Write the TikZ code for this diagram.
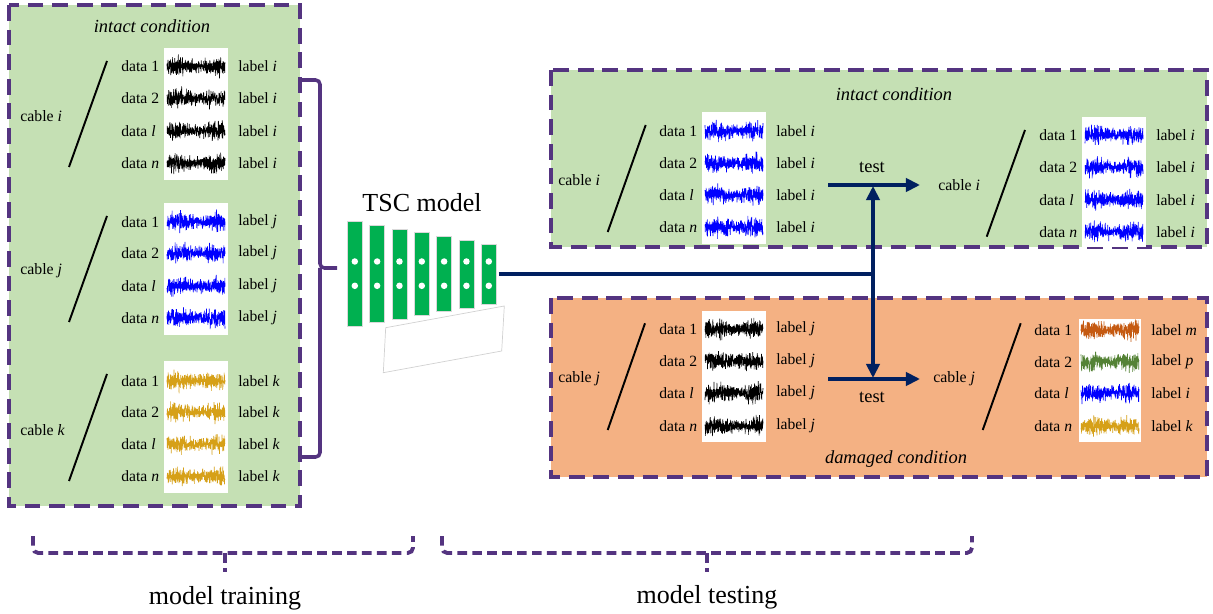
\documentclass[tikz,border=0pt]{standalone}
\usepackage{fontspec}
\setmainfont{Liberation Serif}
\usetikzlibrary{arrows.meta}
\definecolor{purp}{RGB}{84,52,128}
\definecolor{lgreen}{RGB}{197,224,180}
\definecolor{lorange}{RGB}{244,177,131}
\definecolor{navy}{RGB}{0,32,96}
\definecolor{tscg}{RGB}{0,176,80}
\definecolor{gold}{RGB}{214,160,24}
\definecolor{rust}{RGB}{197,90,17}
\definecolor{wgreen}{RGB}{84,130,53}
\newcommand\wv[3]{\draw[#3, line width=0.35pt, line join=bevel] plot[samples=400, domain=0:58, variable=\t] ({#1+\t},{#2+(3.8+0.8*sin(\t*9))*(rand+rand+rand)});}
\newcommand\grp[5]{\foreach \y/\d/\c/\l [count=\k] in {#5} {\node[dt] (#1d\k) at (#2,\y) {data \d}; \wv{#3}{\y}{\c} \node[dt] (#1l\k) at (#4,\y) {label \textit{\l}};}}
\tikzset{
  dt/.style={font=\fontsize{8.9}{10}\selectfont, inner sep=0pt, anchor=west},
  cab/.style={font=\fontsize{9}{10}\selectfont, inner sep=0pt, anchor=west},
  ttl/.style={font=\fontsize{10.5}{12}\selectfont\itshape, inner sep=0pt},
  big/.style={font=\fontsize{14.8}{17}\selectfont, inner sep=0pt},
  dbox/.style={draw=purp, line width=2.2pt, dash pattern=on 9pt off 5pt},
  slash/.style={line width=1.1pt, black},
  wbg/.style={fill=white},
  brace/.style={draw=purp, line width=2pt, rounded corners=2.5pt},
  bdash/.style={draw=purp, line width=2.2pt, dash pattern=on 5.5pt off 3pt},
  nav/.style={draw=navy, line width=2.2pt},
  arr/.style={nav, -{Triangle[length=8pt,width=7.5pt]}},
  barn/.style={fill=tscg, draw=black!15, line width=0.3pt, minimum width=8.5pt, inner sep=0pt},
}
\begin{document}
\begin{tikzpicture}[x=0.02cm, y=-0.02cm]
\pgfmathsetseed{4242}
\useasboundingbox (0,0) rectangle (1213,614);
% ---------------- left training box
\fill[lgreen] (9,5) rectangle (300,506);
\draw[dbox] (9,5) rectangle (300,506);
\node[ttl] (t1) at (152,26) {intact condition};
% group i
\node[cab] (ci) at (20,116) {cable \textit{i}};
\draw[slash] (69,167) -- (107,61);
\fill[wbg] (164,48) rectangle (228,180);
\grp{gi}{121}{167}{238}{66/1/black/i, 98/2/black/i, 131/{\textit{l}}/black/i, 163/{\textit{n}}/black/i}
% group j
\node[cab] (cj) at (20,271) {cable \textit{j}};
\draw[slash] (69,322) -- (107,216);
\fill[wbg] (164,203) rectangle (228,335);
\grp{gj}{121}{167}{238}{222/1/blue/j, 253/2/blue/j, 286/{\textit{l}}/blue/j, 318/{\textit{n}}/blue/j}
% group k
\node[cab] (ck) at (20,430) {cable \textit{k}};
\draw[slash] (69,481) -- (107,374);
\fill[wbg] (164,361) rectangle (228,493);
\grp{gk}{121}{167}{238}{381/1/gold/k, 412/2/gold/k, 444/{\textit{l}}/gold/k, 476/{\textit{n}}/gold/k}
% brace
\draw[brace] (301,80) -| (320,268) -- (337,268);
\draw[brace] (320,268) |- (301,457);
% ---------------- TSC model
\node[big] (tsc) at (422,203) {TSC model};
\draw[black!18, line width=0.4pt] (385.7,327.7) -- (504.3,306) -- (501.7,351) -- (383.3,372.7) -- cycle;
\foreach \k in {0,...,6} {
  \pgfmathsetmacro\bh{(105-7.4*\k)*0.567}
  \node[barn, minimum height=\bh pt] (b\k) at ({354.8+22.33*\k},274) {};
  \fill[white] ({354.8+22.33*\k},261.5) circle[radius=1.85pt];
  \fill[white] ({354.8+22.33*\k},285.8) circle[radius=1.85pt];
}
% ---------------- upper testing box
\fill[lgreen] (551,70) rectangle (1207,247);
\draw[dbox] (551,70) rectangle (1207,247);
\node[ttl] (t2) at (894,94) {intact condition};
\node[cab] (ui) at (558,180) {cable \textit{i}};
\draw[slash] (607.7,232) -- (645.7,125);
\fill[wbg] (702,112) rectangle (766,244);
\grp{ua}{659}{705}{776}{131/1/blue/i, 163/2/blue/i, 195/{\textit{l}}/blue/i, 227/{\textit{n}}/blue/i}
\node[cab] (ui2) at (938,185) {cable \textit{i}};
\draw[slash] (986.7,236.7) -- (1025,130);
\fill[wbg] (1082,117) rectangle (1146,247);
\grp{ub}{1039}{1085}{1156}{135/1/blue/i, 167/2/blue/i, 200/{\textit{l}}/blue/i, 232/{\textit{n}}/blue/i}
% ---------------- lower testing box
\fill[lorange] (551,298) rectangle (1207,477);
\draw[dbox] (551,298) rectangle (1207,477);
\node[ttl] (t3) at (896,459) {damaged condition};
\node[cab] (lj) at (558,379) {cable \textit{j}};
\draw[slash] (607.7,430) -- (645,323.3);
\fill[wbg] (702,311) rectangle (766,442);
\grp{la}{659}{705}{776}{329/1/black/j, 361/2/black/j, 393/{\textit{l}}/black/j, 426/{\textit{n}}/black/j}
\node[cab] (lj2) at (933,379) {cable \textit{j}};
\draw[slash] (982.7,430) -- (1020.7,323.3);
\fill[wbg] (1079,319) rectangle (1141,442);
\grp{lb}{1034}{1081}{1151}{330/1/rust/m, 362/2/wgreen/p, 393/{\textit{l}}/blue/i, 426/{\textit{n}}/gold/k}
% ---------------- connectors
\coordinate (J) at (873,274);
\coordinate (us) at (828,185);
\coordinate (ue) at (920,185);
\coordinate (ls) at (828,379);
\coordinate (le) at (920,379);
\coordinate (vt) at (873,186);
\coordinate (vb) at (873,378);
\draw[nav] ([xshift=1.3pt]b6.east) -- (J);
\draw[arr] (us) -- (ue);
\draw[arr] (ls) -- (le);
\draw[arr] (J) -- (vt);
\draw[arr] (J) -- (vb);
\node[font=\fontsize{10.5}{12}\selectfont, inner sep=0pt] (test1) at (872,167) {test};
\node[font=\fontsize{10.5}{12}\selectfont, inner sep=0pt] (test2) at (872,397) {test};
% ---------------- bottom braces
\draw[bdash, rounded corners=3pt] (33,536) |- (413,553) -- (413,536);
\draw[bdash] (225,553) -- (225,572);
\node[big] (mtr) at (225,598) {model training};
\draw[bdash, rounded corners=3pt] (442,536) |- (972,553) -- (972,536);
\draw[bdash] (707,553) -- (707,572);
\node[big] (mte) at (707,597) {model testing};
\end{tikzpicture}
\end{document}
